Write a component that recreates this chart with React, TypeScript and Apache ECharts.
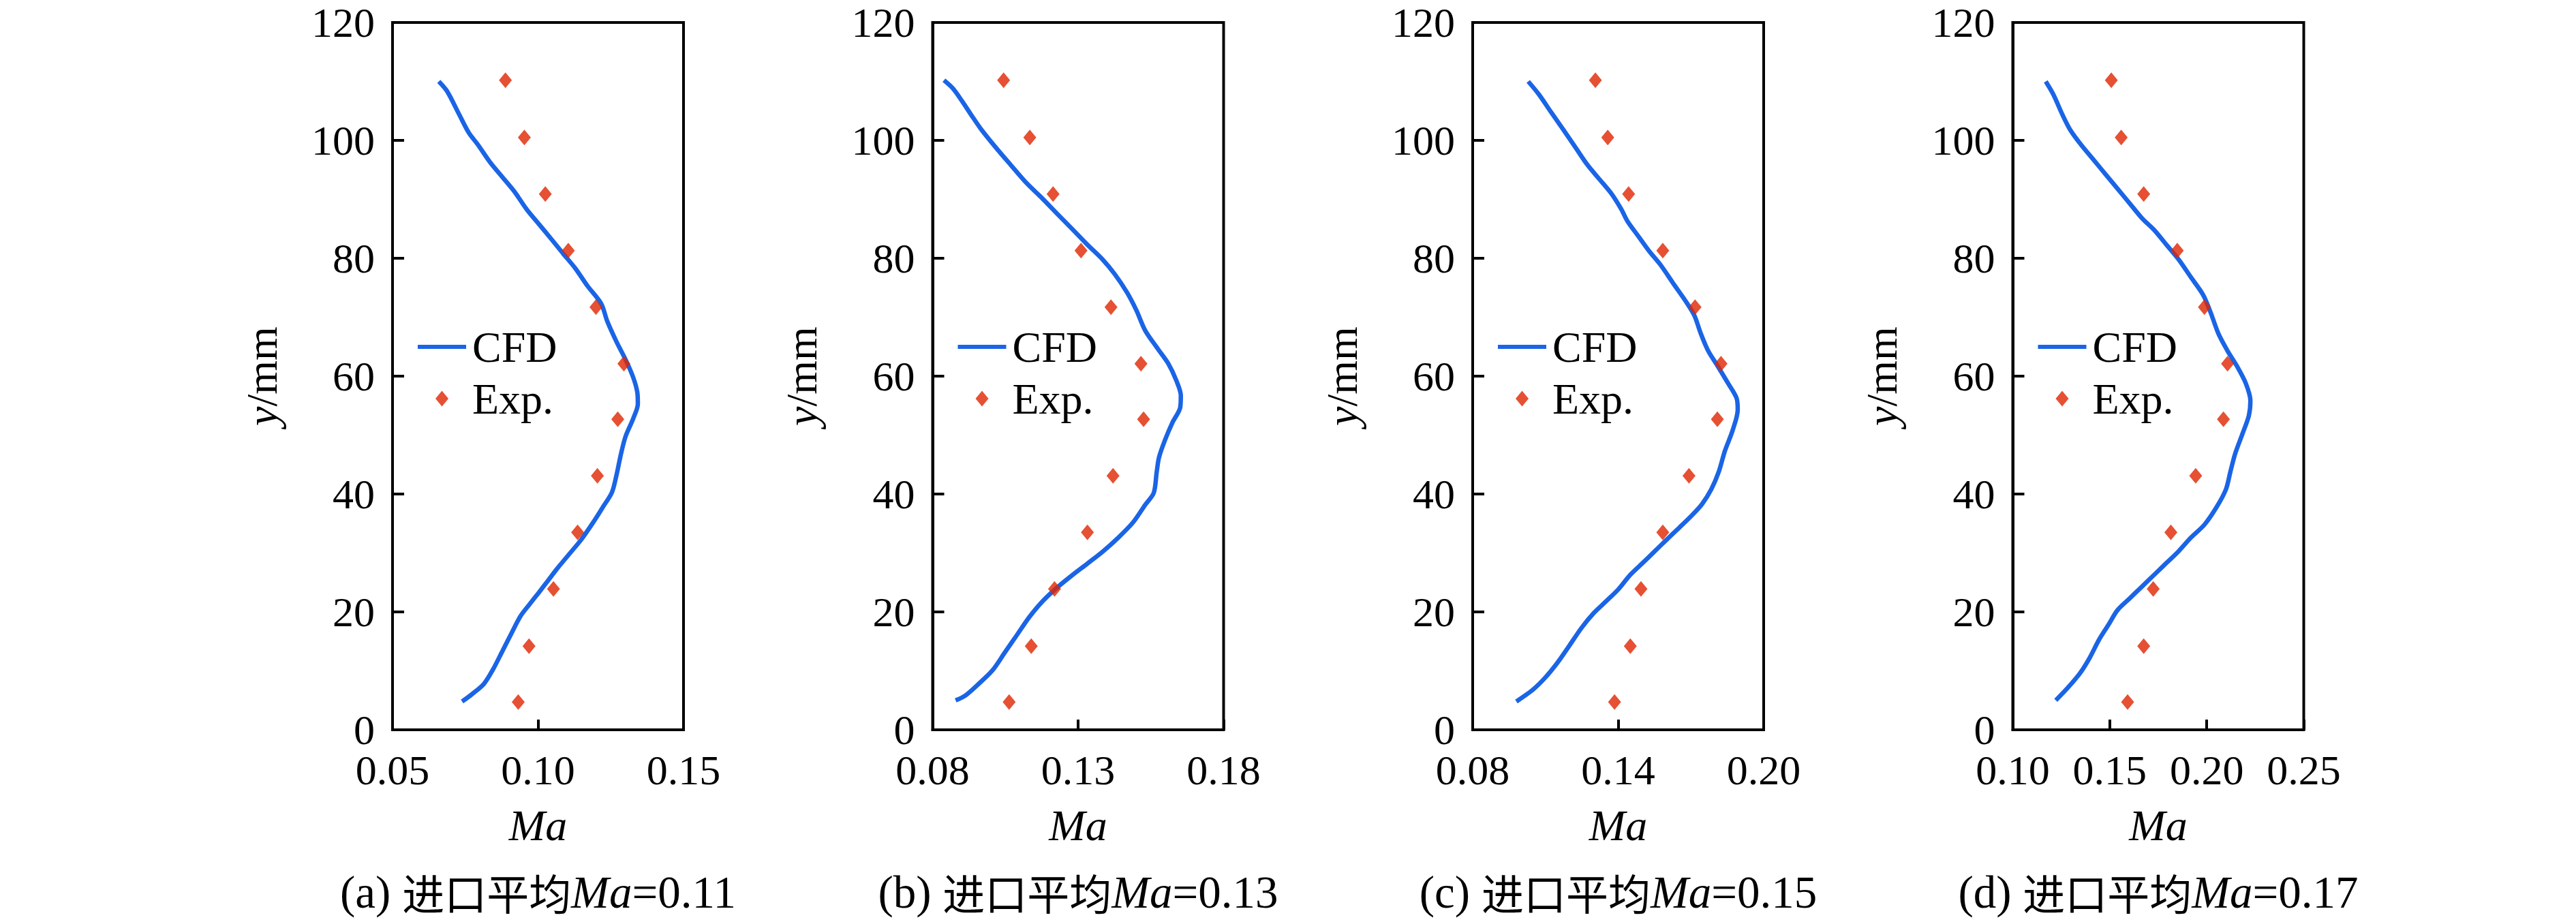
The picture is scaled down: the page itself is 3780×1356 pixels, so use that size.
import React, { useEffect, useRef } from "react";
import * as echarts from "echarts";

// ---- data ----
const expY = [110.2, 100.5, 90.9, 81.3, 71.7, 62.1, 52.7, 43.1, 33.5, 23.9, 14.2, 4.7];

const cfdMaA = [0.0659,0.0688,0.073,0.0762,0.0793,0.0835,0.0877,0.0919,0.0961,0.1003,0.1045,0.1086,0.1128,0.117,0.1217,0.1238,0.127,0.1301,0.1327,0.1341,0.1343,0.1327,0.1301,0.1285,0.127,0.1254,0.1223,0.1191,0.1149,0.1107,0.1065,0.1034,0.1003,0.0971,0.094,0.0908,0.0877,0.0846,0.0814,0.0772,0.0739];
const cfdYA = [110,108.3,104.3,101.3,99.3,96.3,93.8,91.3,88.3,85.8,83.3,80.8,78.3,75.3,72.3,69.3,65.8,62.8,59.8,57.3,55.3,52.8,49.8,46.8,43.3,40.3,37.8,35.3,32.3,29.8,27.3,25.3,23.3,21.3,19.3,16.3,13.3,10.3,7.8,6.0,4.8];
const expMaA = [0.0888,0.0953,0.1025,0.1104,0.1199,0.1295,0.1274,0.1204,0.1136,0.1053,0.0969,0.0932];

const cfdMaB = [0.0839,0.087,0.0902,0.0933,0.0965,0.1017,0.1069,0.1122,0.1174,0.1227,0.1279,0.1332,0.1384,0.1426,0.1468,0.15,0.1531,0.1573,0.1609,0.1638,0.1653,0.1651,0.1625,0.1599,0.1578,0.157,0.156,0.1531,0.1489,0.1436,0.1384,0.1332,0.1279,0.1227,0.1174,0.1132,0.109,0.1048,0.1006,0.0954,0.0912,0.0879];
const cfdYB = [110.2,108.8,106.6,104.3,102,98.8,95.8,92.8,90.3,87.6,85,82.3,79.8,77.3,74.2,71.2,67.7,64.7,62.2,59.2,56.7,54.7,52.2,49.2,46.2,43.7,40.2,38.2,35.2,32.5,30.2,28.2,26.2,24.1,21.6,19.1,16.1,13.1,10.1,7.6,5.8,5.0];
const expMaB = [0.1044,0.1134,0.1214,0.131,0.1413,0.1516,0.1525,0.142,0.1332,0.1219,0.1139,0.1063];

const cfdMaC = [0.1029,0.1073,0.1123,0.1174,0.1224,0.1274,0.1325,0.1375,0.1413,0.1438,0.1482,0.1526,0.1576,0.1626,0.1677,0.1714,0.174,0.1771,0.1809,0.1853,0.1888,0.1893,0.1872,0.184,0.1815,0.1784,0.1746,0.1702,0.1652,0.1601,0.1551,0.1501,0.145,0.14,0.135,0.1299,0.1249,0.1199,0.1148,0.1098,0.1048,0.098];
const cfdYC = [110,107.8,104.8,101.8,98.8,95.8,93.3,90.8,88.3,86.3,83.8,81.3,78.8,75.8,72.8,70.3,67.3,64.3,61.8,58.8,56.3,54.3,50.8,47.3,43.8,40.8,38.3,36.3,34.3,32.3,30.3,28.3,26.3,23.8,21.8,19.8,17.3,14.3,11.3,8.8,6.8,4.8];
const expMaC = [0.1306,0.1357,0.1443,0.1584,0.1717,0.1824,0.1809,0.1692,0.1584,0.1494,0.145,0.1385];

const cfdMaD = [0.117,0.1209,0.1257,0.1296,0.1351,0.1414,0.1477,0.154,0.1603,0.1666,0.1729,0.1792,0.1855,0.1918,0.1981,0.202,0.2059,0.2107,0.2154,0.2201,0.2225,0.2217,0.2185,0.2146,0.2122,0.2099,0.2051,0.1988,0.1918,0.1855,0.1792,0.1729,0.1666,0.1603,0.154,0.1493,0.1445,0.1398,0.1351,0.1288,0.1222];
const cfdYD = [110,107.8,104.3,101.8,99.3,96.8,94.3,91.8,89.3,86.8,84.8,82.3,79.8,76.8,73.8,70.8,67.3,64.3,61.8,58.8,55.8,53.3,50.3,46.8,43.8,40.8,37.8,34.8,32.6,30.3,28.3,26.3,24.3,22.3,20.3,17.8,15.3,12.3,9.8,7.3,5.0];
const expMaD = [0.1508,0.1559,0.1675,0.1848,0.1988,0.2107,0.2086,0.1943,0.1815,0.1724,0.1675,0.1592];

const xMins = [0.05, 0.08, 0.08, 0.10];
const xMaxs = [0.15, 0.18, 0.20, 0.25];
const xIntervals = [0.05, 0.05, 0.06, 0.05];
const yMin = 0, yMax = 120, yInterval = 20;
const panelTags = ["(a)", "(b)", "(c)", "(d)"];
const inletMa = ["0.11", "0.13", "0.15", "0.17"];
const seriesNames = ["CFD", "Exp."];

const cfdMa = [cfdMaA, cfdMaB, cfdMaC, cfdMaD];
const cfdY = [cfdYA, cfdYB, cfdYC, cfdYD];
const expMa = [expMaA, expMaB, expMaC, expMaD];

const zip = (xs: number[], ys: number[]) => xs.map((x, i) => [x, ys[i]]);

const SERIF = "'Liberation Serif', 'Times New Roman', serif";
const CJK = "'Noto Sans CJK SC', sans-serif";
const BLUE = "#1a64e6";
const RED = "#e02400";

export default function App() {
  const ref = useRef<HTMLDivElement>(null);
  useEffect(() => {
    if (!ref.current) return;
    const chart = echarts.init(ref.current, null, { renderer: "svg" });
    const gridLeft0 = 576;
    const step = 792.5;
    const gridW = 427;
    const gridTop = 33;
    const gridH = 1038;

    const grids: any[] = [];
    const xAxes: any[] = [];
    const yAxes: any[] = [];
    const series: any[] = [];
    const legends: any[] = [];
    const titles: any[] = [];

    for (let i = 0; i < 4; i++) {
      const left = gridLeft0 + i * step;
      grids.push({
        left, top: gridTop, width: gridW, height: gridH,
        show: true, borderColor: "#000", borderWidth: 4, backgroundColor: "transparent",
      });
      xAxes.push({
        type: "value", gridIndex: i, min: xMins[i], max: xMaxs[i], interval: xIntervals[i],
        name: "Ma", nameLocation: "middle", nameGap: 108,
        nameTextStyle: { fontFamily: SERIF, fontSize: 64, fontStyle: "italic", color: "#000" },
        axisLine: { show: true, lineStyle: { color: "#000", width: 4 } },
        axisTick: { show: true, inside: true, length: 15, lineStyle: { color: "#000", width: 4 } },
        axisLabel: {
          margin: 28, fontFamily: SERIF, fontSize: 62, color: "#000",
          formatter: (v: number) => v.toFixed(2),
        },
        splitLine: { show: false },
      });
      yAxes.push({
        type: "value", gridIndex: i, min: yMin, max: yMax, interval: yInterval,
        name: "{i|y}{n|/mm}", nameLocation: "middle", nameRotate: 90, nameGap: 160,
        nameTextStyle: {
          fontFamily: SERIF, fontSize: 64, color: "#000",
          rich: {
            i: { fontFamily: SERIF, fontSize: 64, fontStyle: "italic", color: "#000" },
            n: { fontFamily: SERIF, fontSize: 64, color: "#000" },
          },
        },
        axisLine: { show: true, lineStyle: { color: "#000", width: 4 } },
        axisTick: { show: true, inside: true, length: 17, lineStyle: { color: "#000", width: 4 } },
        axisLabel: { margin: 26, fontFamily: SERIF, fontSize: 62, color: "#000" },
        splitLine: { show: false },
      });
      series.push({
        name: seriesNames[0], type: "line", xAxisIndex: i, yAxisIndex: i,
        data: zip(cfdMa[i], cfdY[i]), symbol: "none", smooth: 0.3,
        lineStyle: { color: BLUE, width: 6.5 }, itemStyle: { color: BLUE }, z: 2,
      });
      series.push({
        name: seriesNames[1], type: "scatter", xAxisIndex: i, yAxisIndex: i,
        data: zip(expMa[i], expY), symbol: "diamond", symbolSize: [19, 23],
        itemStyle: { color: RED }, z: 3,
      });
      legends.push({
        data: [
          { name: seriesNames[0], icon: "path://M0,0H71V6H0Z", itemStyle: { color: BLUE } },
          { name: seriesNames[1], icon: "path://M9.5,0L19,11.5L9.5,23L0,11.5Z", itemStyle: { color: RED } },
        ],
        orient: "vertical", left: left + 37, top: 477, padding: 0,
        itemWidth: 71, itemHeight: 23, itemGap: 12,
        symbolKeepAspect: true,
        selectedMode: false,
        textStyle: { fontFamily: SERIF, fontSize: 64, color: "#000", padding: [0, 0, 0, 4] },
      });
      titles.push({
        text: `{t|${panelTags[i]} }{c|进口平均}{i|Ma}{t|=${inletMa[i]}}`,
        left: left + gridW / 2, top: 1274, textAlign: "center", padding: 0,
        textStyle: {
          fontWeight: "normal",
          lineHeight: 70,
          rich: {
            t: { fontFamily: SERIF, fontSize: 67, lineHeight: 70, fontWeight: "normal", color: "#000" },
            c: { fontFamily: CJK, fontSize: 62, lineHeight: 70, fontWeight: "normal", color: "#000" },
            i: { fontFamily: SERIF, fontSize: 67, lineHeight: 70, fontStyle: "italic", fontWeight: "normal", color: "#000" },
          },
        },
      });
    }

    chart.setOption({
      animation: false,
      backgroundColor: "#fff",
      title: titles,
      grid: grids,
      xAxis: xAxes,
      yAxis: yAxes,
      legend: legends,
      series,
    });
    return () => chart.dispose();
  }, []);
  return (
    <div
      ref={ref}
      style={{ position: "fixed", left: 0, top: 0, width: 3780, height: 1356, background: "#fff" }}
    />
  );
}
